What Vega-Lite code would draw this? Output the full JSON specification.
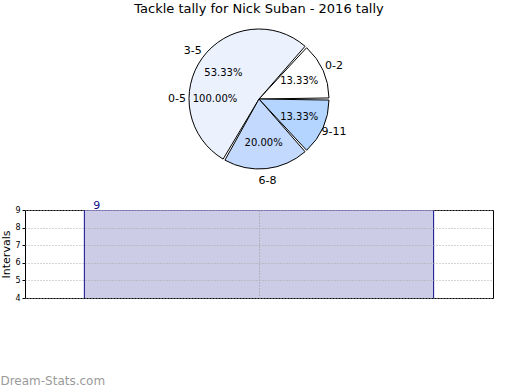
{
  "$schema": "https://vega.github.io/schema/vega-lite/v6.json",
  "padding": {"left": 0, "top": 3, "right": 5, "bottom": 0},
  "bounds": "flush",
  "spacing": 36,
  "title": {"text": "Dream-Stats.com", "orient": "bottom", "anchor": "start", "color": "#9a9a9a", "fontSize": 12, "fontWeight": "normal", "font": "DejaVu Sans", "offset": 73},
  "config": {"view": {"stroke": null}, "font": "DejaVu Sans"},
  "datasets": {
    "slices": [
      {"label": "0-2", "count": 2, "share": 0.1333},
      {"label": "3-5", "count": 8, "share": 0.5333},
      {"label": "6-8", "count": 3, "share": 0.2},
      {"label": "9-11", "count": 2, "share": 0.1333}
    ],
    "extra": [
      {"label": "0-5", "count": 15, "share": 1}
    ],
    "bars": [
      {"group": "tackles", "intervals": 9}
    ]
  },
  "vconcat": [
    {
      "width": 468,
      "height": 150,
      "title": {"text": "Tackle tally for Nick Suban - 2016 tally", "fontSize": 13, "fontWeight": "normal", "color": "#000", "offset": 8},
      "layer": [
        {
          "data": {"name": "slices"},
          "mark": {"type": "arc", "outerRadius": 70, "stroke": "#000", "strokeWidth": 1, "padAngle": 0.03},
          "encoding": {
            "theta": {"field": "count", "type": "quantitative", "stack": true, "scale": {"range": [1.5708, -4.7124]}},
            "order": {"field": "label", "type": "ordinal", "sort": "ascending"},
            "color": {"field": "label", "type": "nominal", "scale": {"domain": ["0-2", "3-5", "6-8", "9-11"], "range": ["#ffffff", "#ebf2fe", "#c4d9fe", "#b3d5ff"]}, "legend": null}
          }
        },
        {
          "data": {"name": "slices"},
          "mark": {"type": "text", "radius": 82, "fontSize": 11, "color": "#000"},
          "encoding": {
            "theta": {"field": "count", "type": "quantitative", "stack": true},
            "order": {"field": "label", "type": "ordinal", "sort": "ascending"},
            "detail": {"field": "label", "type": "nominal"},
            "text": {"field": "label", "type": "nominal"}
          }
        },
        {
          "data": {"name": "slices"},
          "mark": {"type": "text", "radius": 44, "fontSize": 10, "color": "#000"},
          "encoding": {
            "theta": {"field": "count", "type": "quantitative", "stack": true},
            "order": {"field": "label", "type": "ordinal", "sort": "ascending"},
            "detail": {"field": "label", "type": "nominal"},
            "text": {"field": "share", "type": "quantitative", "format": ".2%"}
          }
        },
        {
          "data": {"name": "extra"},
          "mark": {"type": "text", "radius": 82, "fontSize": 11, "color": "#000"},
          "encoding": {
            "theta": {"field": "count", "type": "quantitative", "stack": true},
            "text": {"field": "label", "type": "nominal"}
          }
        },
        {
          "data": {"name": "extra"},
          "mark": {"type": "text", "radius": 44, "fontSize": 10, "color": "#000"},
          "encoding": {
            "theta": {"field": "count", "type": "quantitative", "stack": true},
            "text": {"field": "share", "type": "quantitative", "format": ".2%"}
          }
        }
      ]
    },
    {
      "width": 468,
      "height": 88,
      "view": {"stroke": "#000"},
      "data": {"name": "bars"},
      "encoding": {
        "x": {"field": "group", "type": "nominal", "scale": {"paddingInner": 0, "paddingOuter": 0.17}, "axis": {"labels": false, "ticks": false, "domain": false, "title": null, "grid": true, "bandPosition": 0.5, "gridDash": [1, 2], "gridColor": "#999", "zindex": 1}},
        "y": {"field": "intervals", "type": "quantitative", "scale": {"domain": [4, 9], "zero": false}, "axis": {"values": [4, 5, 6, 7, 8, 9], "labelOverlap": false, "labelFontSize": 8, "tickSize": 3, "labelPadding": 2, "domain": false, "tickColor": "#000", "labelColor": "#000", "gridDash": [1, 2], "gridColor": "#aaa", "zindex": 1, "title": "Intervals", "titleFontSize": 11, "titleFontWeight": "normal", "titleColor": "#000", "titlePadding": 3}}
      },
      "layer": [
        {
          "mark": {"type": "bar", "fill": "#ccccE6", "stroke": "#0d0d8a", "strokeWidth": 1, "clip": true}
        },
        {
          "mark": {"type": "text", "color": "#0d0d8a", "align": "left", "baseline": "bottom", "dx": 9, "dy": 1, "fontSize": 11},
          "encoding": {
            "x": {"field": "group", "type": "nominal", "bandPosition": 0},
            "text": {"field": "intervals", "type": "quantitative"}
          }
        }
      ]
    }
  ]
}
